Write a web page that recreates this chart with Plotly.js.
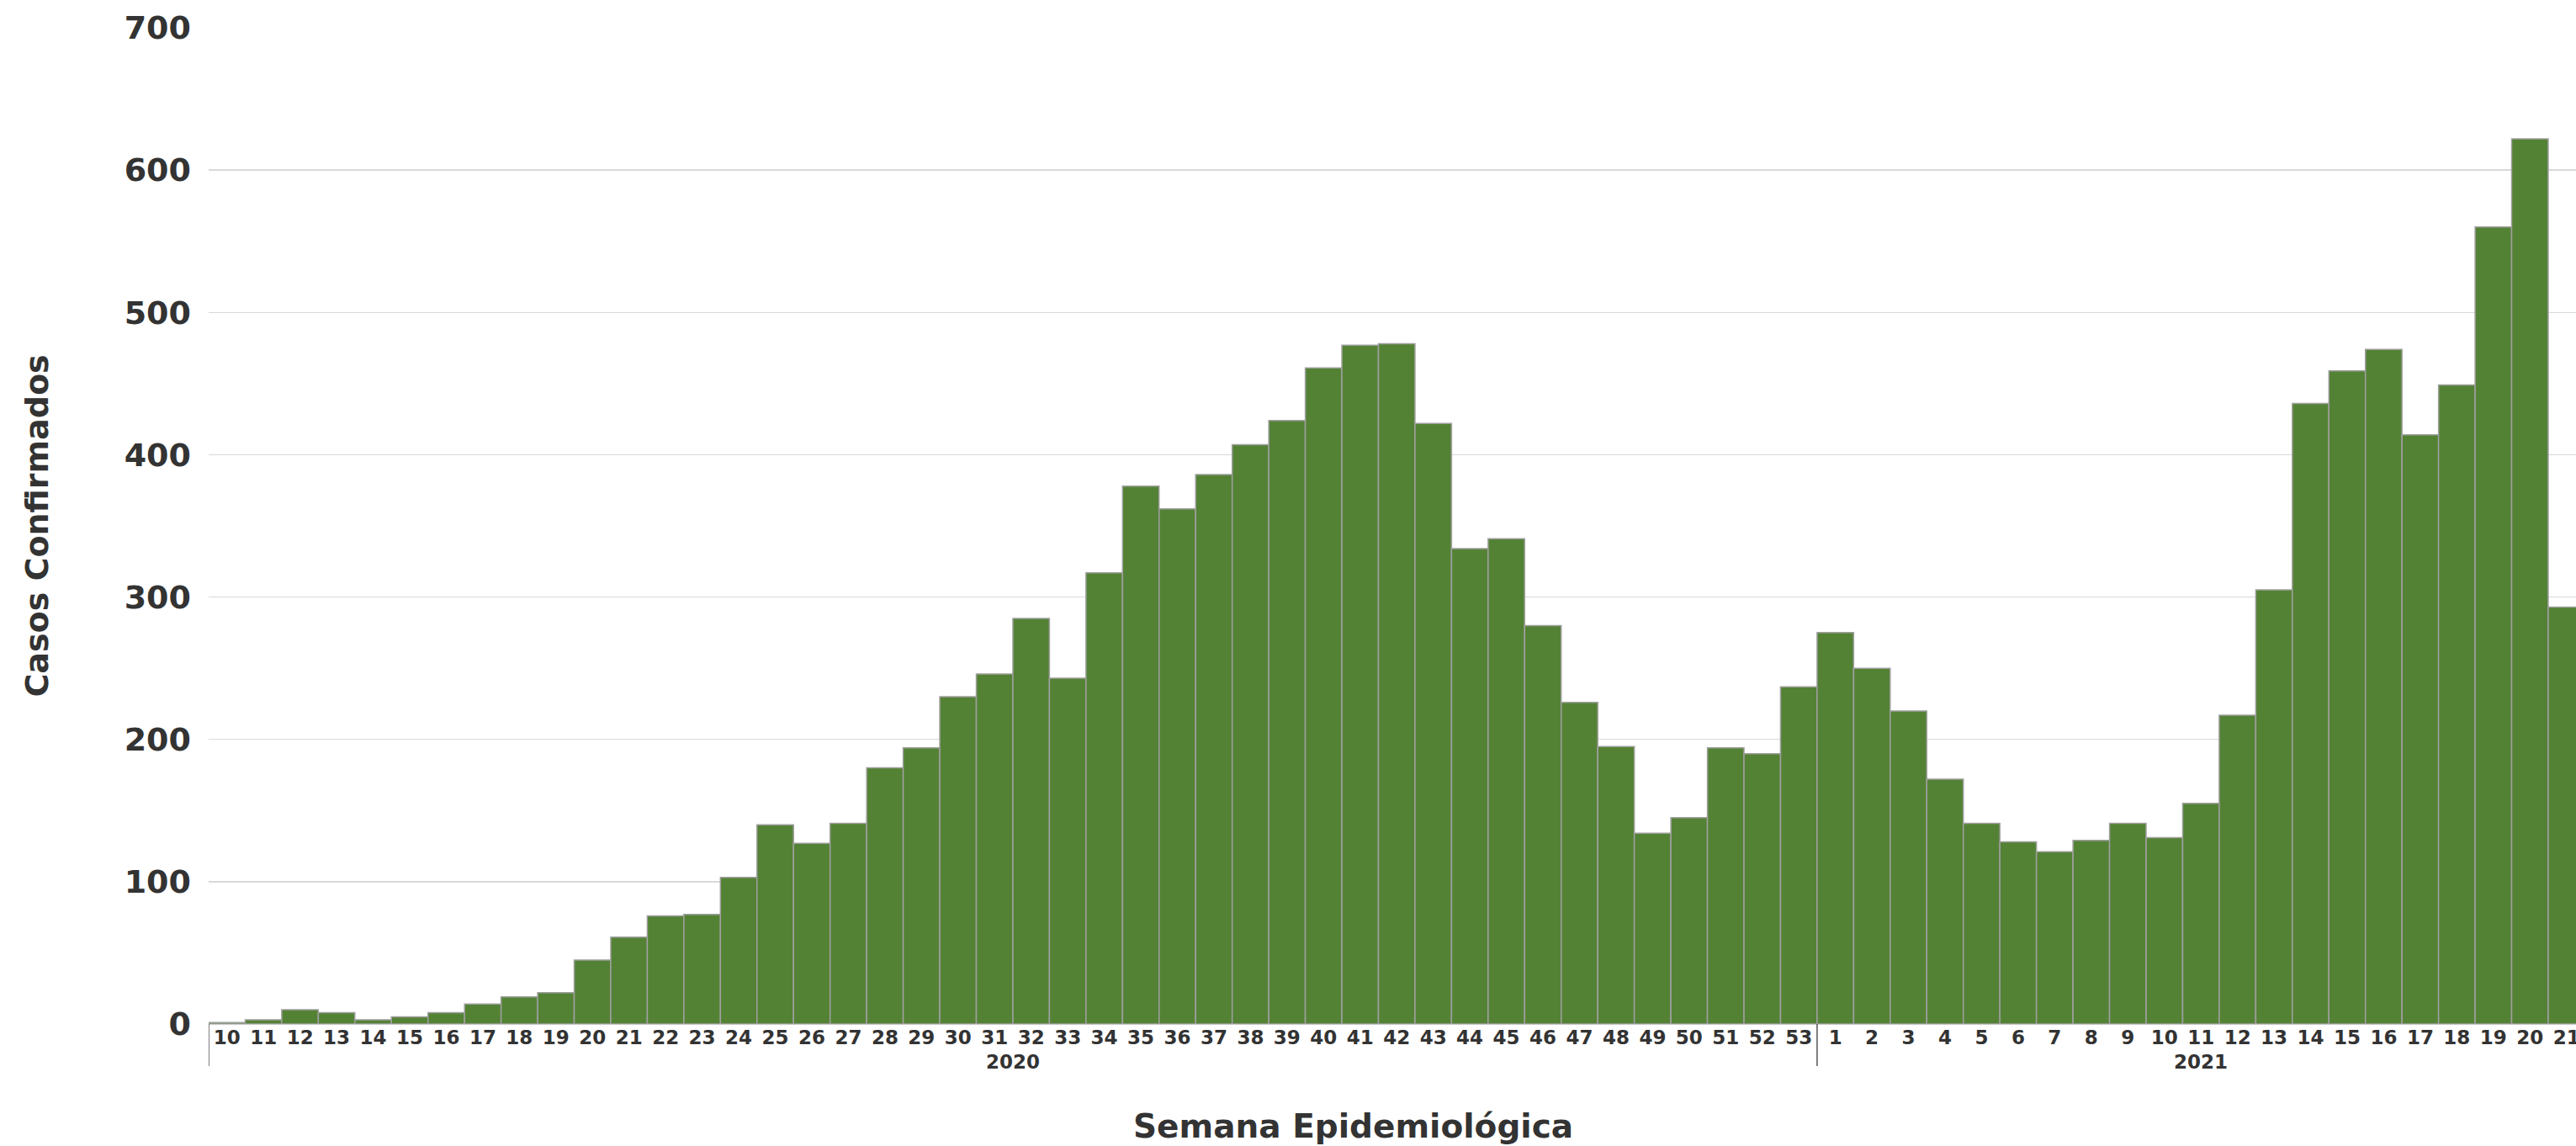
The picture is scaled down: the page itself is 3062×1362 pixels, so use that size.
<!DOCTYPE html>
<html>
<head>
<meta charset="utf-8">
<script src="https://cdn.plot.ly/plotly-3.0.1.min.js"></script>
<style>
html,body{margin:0;padding:0;background:#fff;overflow:hidden;}
#chart{width:3062px;height:1362px;}
</style>
</head>
<body>
<div id="chart"></div>
<script>
// Epidemiological weeks and confirmed cases
const year2020 = "2020";
const weeks2020 = [10,11,12,13,14,15,16,17,18,19,20,21,22,23,24,25,26,27,28,29,30,31,32,33,34,35,36,37,38,39,40,41,42,43,44,45,46,47,48,49,50,51,52,53];
const cases2020 = [1,3,10,8,3,5,8,14,19,22,45,61,76,77,103,140,127,141,180,194,230,246,285,243,317,378,362,386,407,424,461,477,478,422,334,341,280,226,195,134,145,194,190,237];
const year2021 = "2021";
const weeks2021 = [1,2,3,4,5,6,7,8,9,10,11,12,13,14,15,16,17,18,19,20,21];
const cases2021 = [275,250,220,172,141,128,121,129,141,131,155,217,305,436,459,474,414,449,560,622,293];
const yTicks = [0,100,200,300,400,500,600,700];

const groups = [
  {year: year2020, weeks: weeks2020, cases: cases2020},
  {year: year2021, weeks: weeks2021, cases: cases2021}
];

const xIds = [], xLabels = [], yVals = [];
const yearAnn = [], dividers = [];
let start = 0;
const FONT = "DejaVu Sans";
const TXT = "#333333";

// paper-space offsets below the plot area (plot height 1184 px)
const PLOT_H = 1362 - 33 - 145;
const yearY = -(1262 - 1217) / PLOT_H;
const divY = -(1267 - 1217) / PLOT_H;

groups.forEach(g => {
  g.weeks.forEach((w, i) => {
    xIds.push(g.year + "-" + w);
    xLabels.push(String(w));
    yVals.push(g.cases[i]);
  });
  const end = start + g.weeks.length - 1;
  yearAnn.push({
    text: g.year, xref: "x", yref: "paper",
    x: (start + end) / 2, y: yearY,
    xanchor: "center", yanchor: "middle", showarrow: false,
    font: {family: FONT, size: 23, color: TXT, weight: "bold"}
  });
  dividers.push({type: "line", xref: "x", yref: "paper",
    x0: start - 0.5, x1: start - 0.5, y0: 0, y1: divY,
    line: {color: "#555555", width: 1.5}});
  start = end + 1;
});
dividers.push({type: "line", xref: "x", yref: "paper",
  x0: start - 0.5, x1: start - 0.5, y0: 0, y1: divY,
  line: {color: "#555555", width: 1.5}});

const trace = {
  type: "bar",
  x: xIds,
  y: yVals,
  marker: {color: "rgb(84,130,53)", line: {color: "rgb(160,160,160)", width: 1.5}},
  hoverinfo: "y"
};

const layout = {
  width: 3062,
  height: 1362,
  margin: {l: 248, r: 0, t: 33, b: 145, pad: 0},
  paper_bgcolor: "#ffffff",
  plot_bgcolor: "#ffffff",
  bargap: 0,
  showlegend: false,
  font: {family: FONT, color: TXT, weight: "bold"},
  xaxis: {
    type: "category",
    range: [-0.5, 64.26],
    tickmode: "array",
    tickvals: xIds,
    ticktext: xLabels,
    tickangle: 0,
    tickfont: {family: FONT, size: 23, color: TXT, weight: "bold"},
    showgrid: false,
    zeroline: false,
    showline: false,
    ticks: "",
    automargin: false,
    fixedrange: true
  },
  yaxis: {
    range: [0, 700],
    tickvals: yTicks,
    ticktext: yTicks.map(String),
    tickfont: {family: FONT, size: 38, color: TXT, weight: "bold"},
    showgrid: true,
    gridcolor: "#d9d9d9",
    gridwidth: 1.5,
    zeroline: true,
    zerolinecolor: "#c8c8c8",
    zerolinewidth: 1.5,
    showline: false,
    ticks: "",
    ticklabelstandoff: 20,
    automargin: false,
    title: {
      text: "Casos Confirmados",
      font: {family: FONT, size: 38, color: TXT, weight: "bold"},
      standoff: 78
    }
  },
  shapes: dividers,
  annotations: yearAnn.concat([{
    text: "Semana Epidemiológica",
    xref: "paper", yref: "paper",
    x: (1608 - 248) / (3062 - 248), y: -(1338 - 1217) / PLOT_H,
    xanchor: "center", yanchor: "middle",
    showarrow: false,
    font: {family: FONT, size: 39, color: TXT, weight: "bold"}
  }])
};

Plotly.newPlot("chart", [trace], layout, {staticPlot: true, displayModeBar: false});
</script>
</body>
</html>
